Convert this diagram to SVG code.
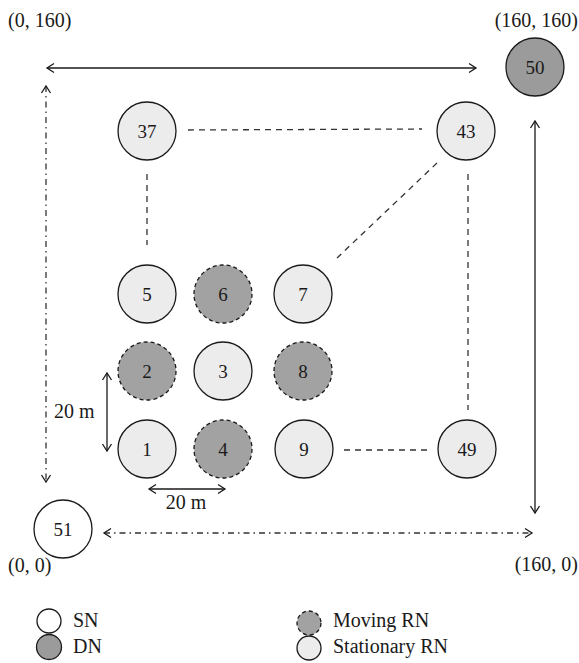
<svg xmlns="http://www.w3.org/2000/svg" width="579" height="663" viewBox="0 0 579 663">
<style>
text{font-family:"Liberation Serif","Times New Roman",serif;font-size:20px;fill:#1a1a1a}
.lbl{text-anchor:middle;font-size:19px}
.n{stroke:#1a1a1a;stroke-width:1.3}
.sn{fill:#ffffff}
.dn{fill:#9b9b9b}
.mv{fill:#a2a2a2;stroke-dasharray:4 3}
.st{fill:#ececec}
.dash{stroke:#333;stroke-width:1.3;fill:none;stroke-dasharray:6 5}
.axis{stroke:#1a1a1a;stroke-width:1.3;fill:none}
.dd{stroke:#333;stroke-width:1.3;fill:none;stroke-dasharray:6 4 1.5 4}
</style>
<defs>
<marker id="ah" viewBox="-10 -6 12 12" markerWidth="12" markerHeight="12" refX="0" refY="0" markerUnits="userSpaceOnUse" orient="auto-start-reverse">
<path d="M -7 -4.5 L 0 0 L -7 4.5" fill="none" stroke="#1a1a1a" stroke-width="1.3"/>
</marker>
</defs>
<g id="connectors">
<line class="axis" x1="47" y1="68" x2="476" y2="68" marker-start="url(#ah)" marker-end="url(#ah)"/>
<line class="axis" x1="535" y1="121" x2="535" y2="513" marker-start="url(#ah)" marker-end="url(#ah)"/>
<line class="dd" x1="46" y1="86" x2="46" y2="482" marker-start="url(#ah)" marker-end="url(#ah)"/>
<line class="dd" x1="104" y1="533" x2="532" y2="533" marker-start="url(#ah)" marker-end="url(#ah)"/>
<line class="axis" x1="107" y1="373" x2="107" y2="451" marker-start="url(#ah)" marker-end="url(#ah)"/>
<line class="axis" x1="149" y1="489" x2="225" y2="489" marker-start="url(#ah)" marker-end="url(#ah)"/>
<line class="dash" x1="188" y1="130" x2="422" y2="129"/>
<line class="dash" x1="147" y1="174" x2="147" y2="245"/>
<line class="dash" x1="437" y1="163" x2="337" y2="258"/>
<line class="dash" x1="468" y1="174" x2="468" y2="410"/>
<line class="dash" x1="344" y1="450" x2="428" y2="450"/>
</g>
<g id="n37"><circle class="n st" cx="147" cy="131" r="29"/><text class="lbl" x="147" y="138">37</text></g>
<g id="n43"><circle class="n st" cx="466" cy="131" r="29"/><text class="lbl" x="466" y="138">43</text></g>
<g id="n50"><circle class="n dn" cx="535" cy="67" r="29"/><text class="lbl" x="535" y="74">50</text></g>
<g id="n5"><circle class="n st" cx="147" cy="294" r="29"/><text class="lbl" x="147" y="301">5</text></g>
<g id="n6"><circle class="n mv" cx="223" cy="294" r="29"/><text class="lbl" x="223" y="301">6</text></g>
<g id="n7"><circle class="n st" cx="303" cy="294" r="29"/><text class="lbl" x="303" y="301">7</text></g>
<g id="n2"><circle class="n mv" cx="147" cy="371" r="29"/><text class="lbl" x="147" y="378">2</text></g>
<g id="n3"><circle class="n st" cx="223" cy="371" r="29"/><text class="lbl" x="223" y="378">3</text></g>
<g id="n8"><circle class="n mv" cx="303" cy="371" r="29"/><text class="lbl" x="303" y="378">8</text></g>
<g id="n1"><circle class="n st" cx="147" cy="449" r="29"/><text class="lbl" x="147" y="456">1</text></g>
<g id="n4"><circle class="n mv" cx="223" cy="449" r="29"/><text class="lbl" x="223" y="456">4</text></g>
<g id="n9"><circle class="n st" cx="304" cy="449" r="29"/><text class="lbl" x="304" y="456">9</text></g>
<g id="n49"><circle class="n st" cx="467" cy="449" r="29"/><text class="lbl" x="467" y="456">49</text></g>
<g id="n51"><circle class="n sn" cx="63" cy="529" r="29"/><text class="lbl" x="63" y="536">51</text></g>
<g id="labels">
<text x="8" y="27">(0, 160)</text>
<text x="578" y="27" text-anchor="end">(160, 160)</text>
<text x="8" y="572">(0, 0)</text>
<text x="578" y="571" text-anchor="end">(160, 0)</text>
<text x="54" y="418">20 m</text>
<text x="186" y="509" text-anchor="middle">20 m</text>
</g>
<g id="legend">
<circle class="n sn" cx="49" cy="621" r="12"/><text x="73" y="627">SN</text>
<circle class="n dn" cx="49" cy="647" r="12.5"/><text x="73" y="653">DN</text>
<circle class="n mv" cx="309" cy="623" r="12"/><text x="333" y="627">Moving RN</text>
<circle class="n st" cx="309" cy="648" r="12"/><text x="333" y="653">Stationary RN</text>
</g>
</svg>
